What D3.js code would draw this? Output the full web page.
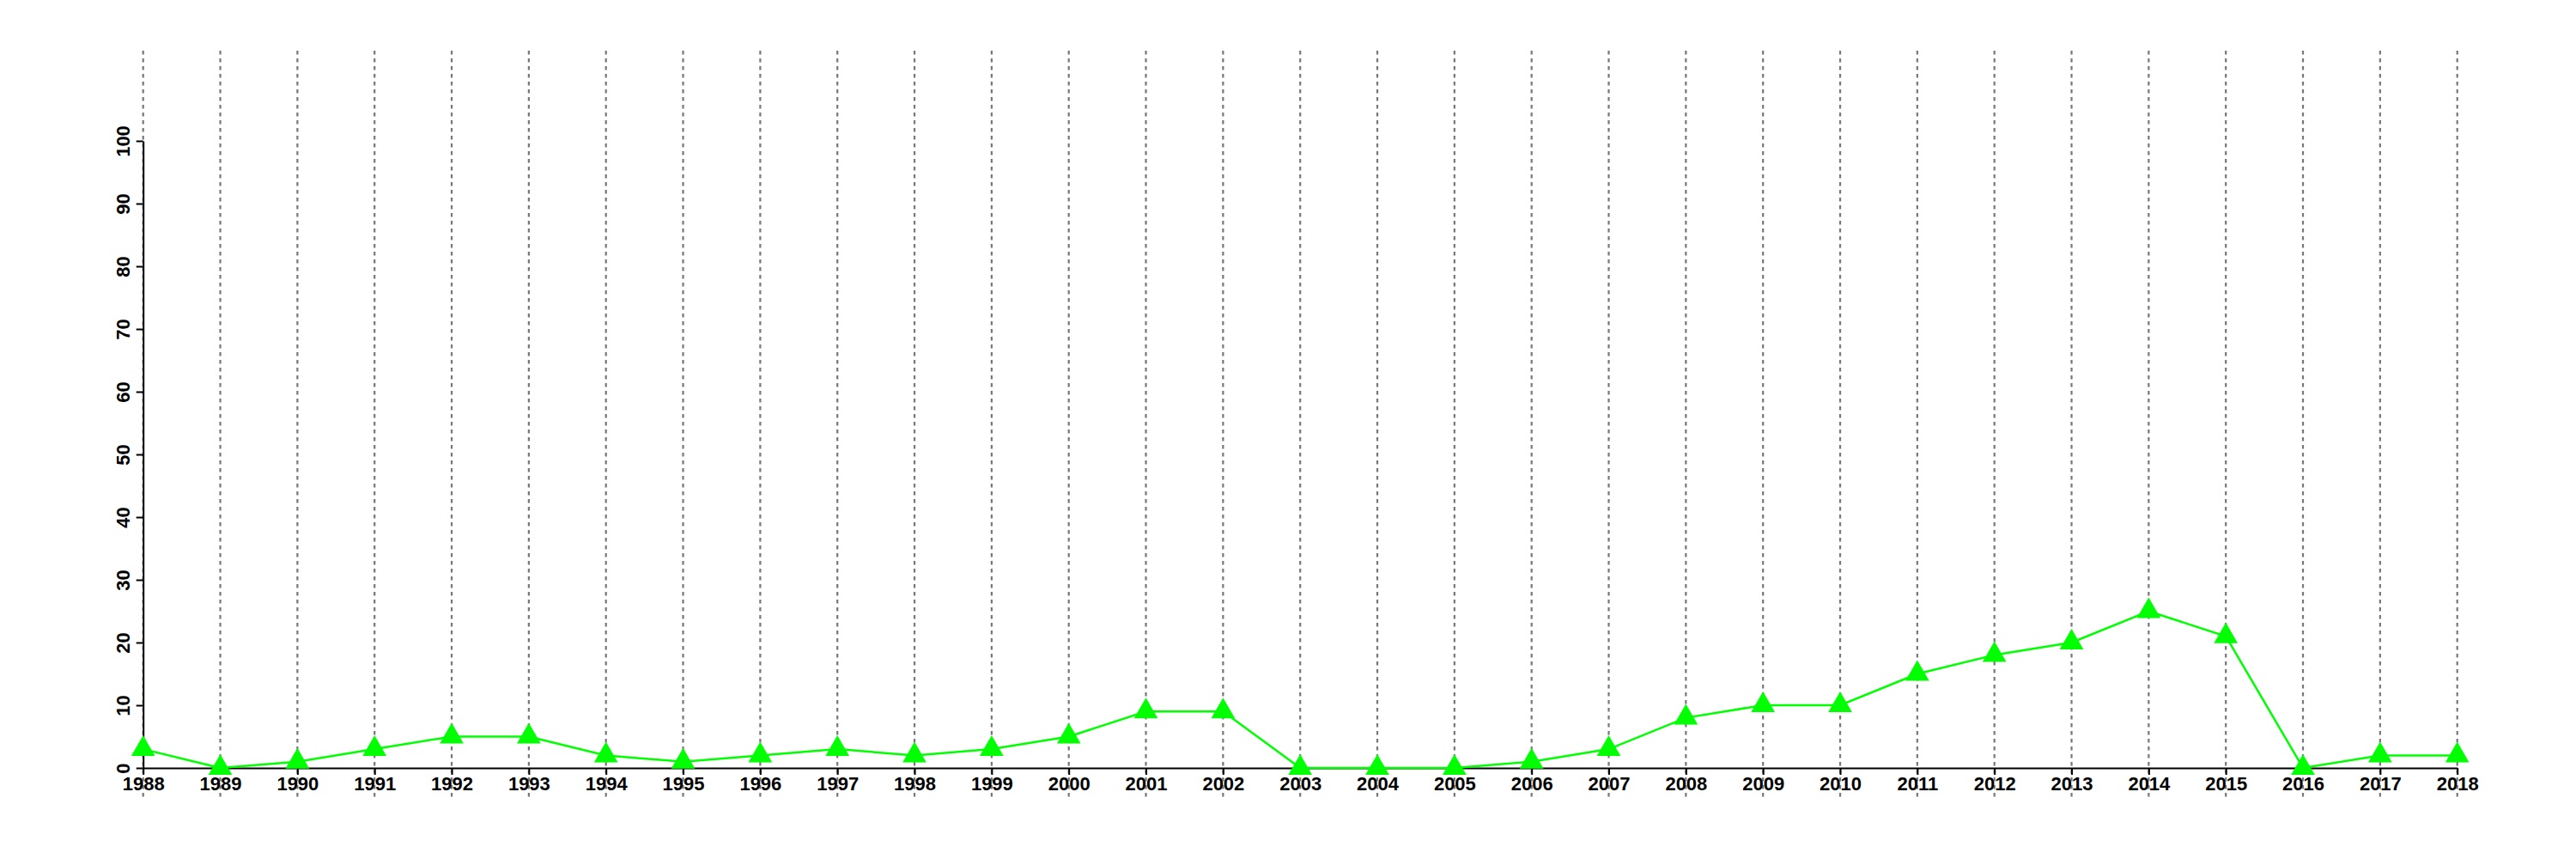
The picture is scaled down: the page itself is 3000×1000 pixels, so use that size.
<!DOCTYPE html>
<html>
<head>
<meta charset="utf-8">
<script src="https://cdn.jsdelivr.net/npm/d3@7"></script>
<style>
  html, body { margin: 0; padding: 0; background: #fff; }
  svg { display: block; }
</style>
</head>
<body>
<svg id="chart" width="3000" height="1000"></svg>
<script>
const years = [1988,1989,1990,1991,1992,1993,1994,1995,1996,1997,1998,1999,2000,2001,2002,2003,2004,2005,2006,2007,2008,2009,2010,2011,2012,2013,2014,2015,2016,2017,2018];
const values = [3,0,1,3,5,5,2,1,2,3,2,3,5,9,9,0,0,0,1,3,8,10,10,15,18,20,25,21,0,2,2];
const yTicks = [0,10,20,30,40,50,60,70,80,90,100];

const svg = d3.select("#chart");
const x = d3.scaleLinear().domain([1988, 2018]).range([166.7, 2861.7]);
const y = d3.scaleLinear().domain([0, 100]).range([894, 164]);
const font = "'Liberation Sans', Arial, Helvetica, sans-serif";

// vertical dotted grid lines
svg.append("g").selectAll("line").data(years).join("line")
  .attr("x1", d => x(d)).attr("x2", d => x(d))
  .attr("y1", 59).attr("y2", 930)
  .attr("stroke", "#777").attr("stroke-width", 2.2)
  .attr("stroke-dasharray", "4.5,4.5");

// x axis
const xAxis = svg.append("g").attr("transform", `translate(0,${y(0)})`)
  .call(d3.axisBottom(x).tickValues(years).tickFormat(d3.format("d")).tickSizeInner(8).tickSizeOuter(0).tickPadding(2));
xAxis.select(".domain").attr("stroke", "#000").attr("stroke-width", 2);
xAxis.selectAll(".tick line").attr("stroke", "#000").attr("stroke-width", 2);
xAxis.selectAll(".tick text").attr("fill", "#000")
  .style("font-family", font).style("font-weight", "bold").style("font-size", "22px");

// y axis
const yAxis = svg.append("g").attr("transform", `translate(${x(1988)},0)`)
  .call(d3.axisLeft(y).tickValues(yTicks).tickSizeInner(8).tickSizeOuter(0));
yAxis.select(".domain").attr("stroke", "#000").attr("stroke-width", 2);
yAxis.selectAll(".tick line").attr("stroke", "#000").attr("stroke-width", 2);
yAxis.selectAll(".tick text").attr("fill", "#000")
  .attr("x", null).attr("dy", null)
  .attr("text-anchor", "middle")
  .attr("transform", "translate(-16,0) rotate(-90)")
  .style("font-family", font).style("font-weight", "bold").style("font-size", "22px");

// line
const line = d3.line().x((d, i) => x(years[i])).y(d => y(d));
svg.append("path").datum(values)
  .attr("d", line).attr("fill", "none")
  .attr("stroke", "#00ff00").attr("stroke-width", 2.5);

// triangle markers (R pch 17 style: centroid-ish at point)
const r = 16, xc = r * Math.sqrt(3) / 2 * 1.0;
const tri = `M0,${-r}L${xc},${r/2}L${-xc},${r/2}Z`;
svg.append("g").selectAll("path").data(values).join("path")
  .attr("transform", (d, i) => `translate(${x(years[i])},${y(d)})`)
  .attr("d", tri).attr("fill", "#00ff00");
</script>
</body>
</html>
